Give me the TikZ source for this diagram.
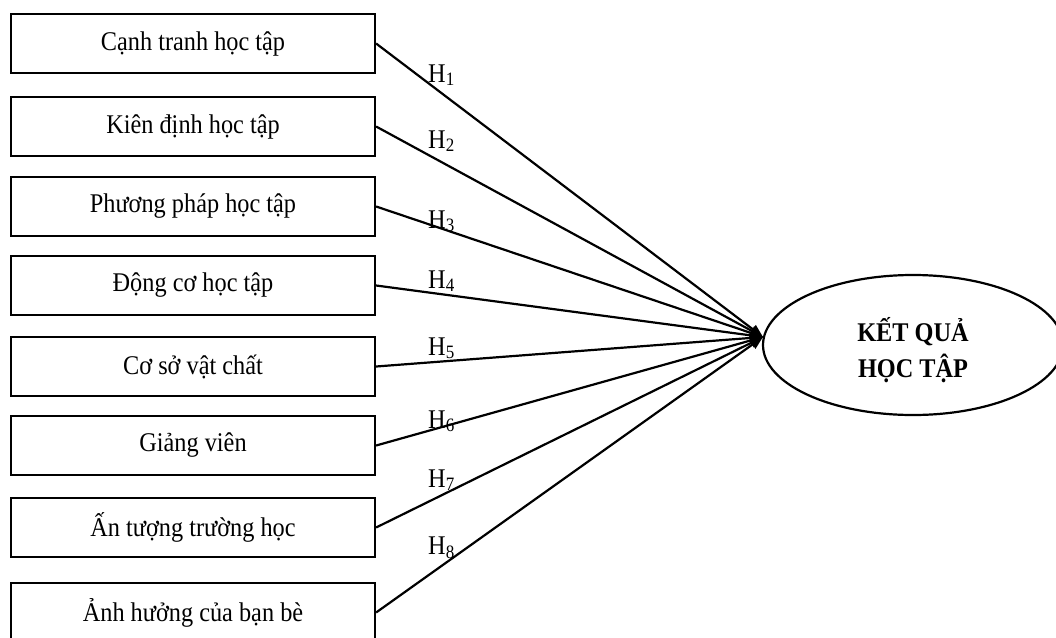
\documentclass[tikz,border=0pt]{standalone}
\usepackage{fontspec}
\usepackage{graphicx}
\setmainfont{Liberation Serif}
\usetikzlibrary{arrows.meta,shapes.geometric}
% slightly condensed lettering
\newcommand{\narrow}[1]{\scalebox{0.9}[1]{#1}}
\tikzset{
  factor/.style={draw, line width=2.2pt, rectangle, minimum width=364pt,
    minimum height=59pt, inner sep=0pt, font=\fontsize{27}{32}\selectfont},
  outcome/.style={draw, line width=2.2pt, ellipse, minimum width=300pt,
    minimum height=140pt, inner sep=0pt, align=center,
    font=\fontsize{27}{36}\selectfont\bfseries},
  hyp/.style={anchor=base west, inner sep=0pt, font=\fontsize{27}{32}\selectfont},
  link/.style={line width=2.2pt, -{Triangle[length=13pt,width=10pt]}}
}
\begin{document}
\begin{tikzpicture}[x=1pt,y=-1pt]
\path[use as bounding box] (0,0) rectangle (1056,637);
\clip (0,0) rectangle (1056,637);

% factor boxes
\node[factor] (b1) at (193,43.5)  {\narrow{Cạnh tranh học tập}};
\node[factor] (b2) at (193,126.5) {\narrow{Kiên định học tập}};
\node[factor] (b3) at (193,206.5) {\narrow{Phương pháp học tập}};
\node[factor] (b4) at (193,285.5) {\narrow{Động cơ học tập}};
\node[factor] (b5) at (193,366.5) {\narrow{Cơ sở vật chất}};
\node[factor] (b6) at (193,445.5) {\narrow{Giảng viên}};
\node[factor] (b7) at (193,527.5) {\narrow{Ấn tượng trường học}};
\node[factor] (b8) at (193,612.5) {\narrow{Ảnh hưởng của bạn bè}};

% outcome (extra head room keeps the two lines a little below centre)
\node[outcome] (kq) at (913,345)
  {\raisebox{0pt}[\dimexpr\height+10pt\relax]{\narrow{KẾT QUẢ}}\\\narrow{HỌC TẬP}};
\coordinate (tip) at (763,337);

% hypothesis paths
\foreach \i in {1,...,8} {
  \draw[link] (b\i.east) -- (tip);
}

% hypothesis labels
\node[hyp] (h1) at (428,82)  {\narrow{H\textsubscript{1}}};
\node[hyp] (h2) at (428,148) {\narrow{H\textsubscript{2}}};
\node[hyp] (h3) at (428,228) {\narrow{H\textsubscript{3}}};
\node[hyp] (h4) at (428,288) {\narrow{H\textsubscript{4}}};
\node[hyp] (h5) at (428,355) {\narrow{H\textsubscript{5}}};
\node[hyp] (h6) at (428,428) {\narrow{H\textsubscript{6}}};
\node[hyp] (h7) at (428,487) {\narrow{H\textsubscript{7}}};
\node[hyp] (h8) at (428,554) {\narrow{H\textsubscript{8}}};
\end{tikzpicture}
\end{document}
